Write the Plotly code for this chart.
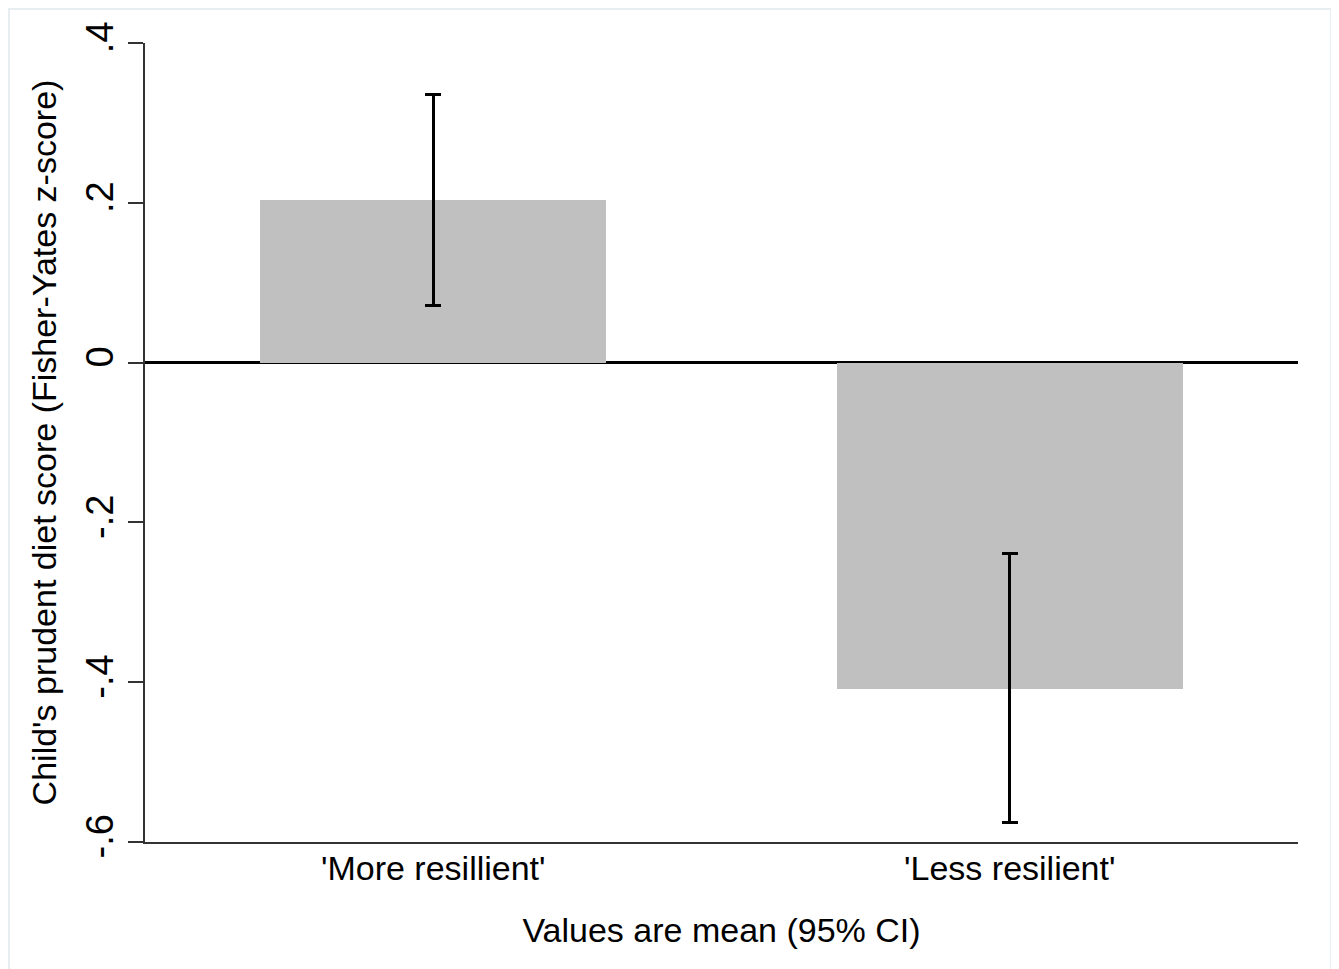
import plotly.graph_objects as go

categories = ["'More resillient'", "'Less resilient'"]
means = [0.203, -0.409]
ci_lower = [0.071, -0.575]
ci_upper = [0.335, -0.239]
y_tickvals = [0.4, 0.2, 0, -0.2, -0.4, -0.6]
y_ticktext = [".4", ".2", "0", "-.2", "-.4", "-.6"]

err_plus = [u - m for u, m in zip(ci_upper, means)]
err_minus = [m - l for m, l in zip(means, ci_lower)]

FONT = "Liberation Sans, Arial, Helvetica, sans-serif"

fig = go.Figure()
fig.add_trace(go.Bar(
    x=list(range(len(categories))),
    y=means,
    width=0.6,
    marker=dict(color="#c0c0c0", line=dict(width=0)),
    error_y=dict(type="data", symmetric=False, array=err_plus, arrayminus=err_minus,
                 color="black", thickness=3, width=8),
    showlegend=False,
))

fig.update_layout(
    width=1331, height=961,
    margin=dict(l=137, r=41, t=35, b=127, autoexpand=False),
    paper_bgcolor="white", plot_bgcolor="white",
    font=dict(family=FONT, color="black", size=34),
    bargap=0,
    shapes=[dict(type="rect", xref="paper", yref="paper",
                 x0=-0.1180, x1=1.0286, y0=-0.17, y1=1.0426,
                 line=dict(color="#e6eef2", width=2), fillcolor="rgba(0,0,0,0)",
                 layer="below")],
)

fig.update_xaxes(
    range=[-0.5, 1.5],
    tickvals=list(range(len(categories))), ticktext=categories,
    showline=True, linecolor="#333333", linewidth=2,
    ticks="", showgrid=False, zeroline=False,
    ticklabelstandoff=-5,
    tickfont=dict(size=34),
    title=dict(text="Values are mean (95% CI)", font=dict(size=34), standoff=32),
)

fig.update_yaxes(
    range=[-0.6, 0.4],
    tickvals=y_tickvals, ticktext=y_ticktext,
    tickangle=-90,
    showline=True, linecolor="#333333", linewidth=2,
    ticks="outside", ticklen=15, tickwidth=2, tickcolor="#333333",
    tickfont=dict(size=38),
    showgrid=False,
    zeroline=True, zerolinecolor="black", zerolinewidth=3,
    title=dict(text="Child's prudent diet score (Fisher-Yates z-score)", font=dict(size=34), standoff=12),
)

fig.write_html("out.html")
